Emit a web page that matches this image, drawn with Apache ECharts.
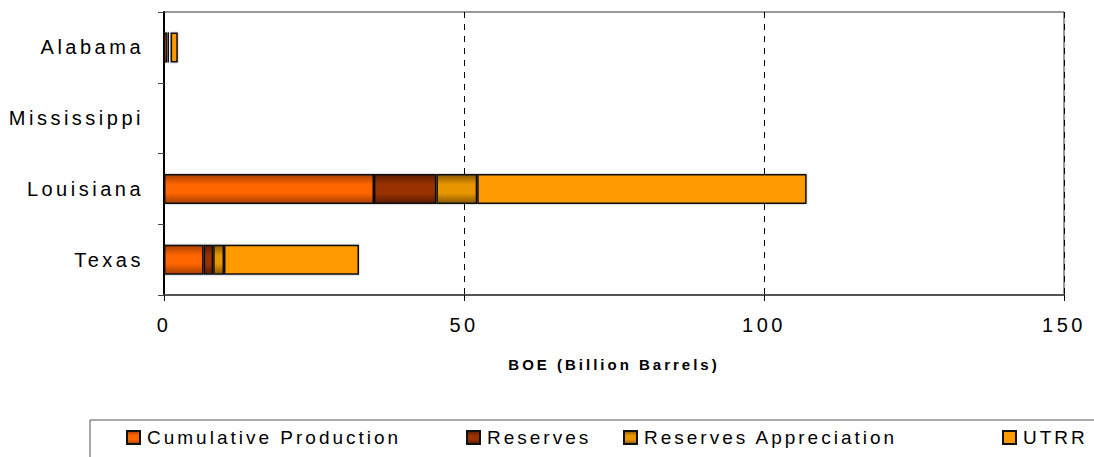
<!DOCTYPE html>
<html>
<head>
<meta charset="utf-8">
<script src="https://cdn.jsdelivr.net/npm/echarts@6/dist/echarts.min.js"></script>
<style>
    html, body { margin: 0; padding: 0; background: #fff; }
    #chart { width: 1094px; height: 457px; letter-spacing: 3.5px; }
    #chart text[style*="19px"] { letter-spacing: 3px; }
    #chart text[style*="bold"] { letter-spacing: 3px; }
</style>
</head>
<body>
<div id="chart"></div>
<script>
// 数据
const states = ['Alabama', 'Mississippi', 'Louisiana', 'Texas']
const cumulativeProduction = [0.6, 0, 35.0, 6.6]
const reserves = [0.3, 0, 10.4, 1.6]
const reservesAppreciation = [0.2, 0, 6.8, 1.8]
const utrr = [1.2, 0, 54.9, 22.5]
const xTicks = [0, 50, 100, 150]

const seriesNames = ['Cumulative Production', 'Reserves', 'Reserves Appreciation', 'UTRR']

// 竖向渐变（上下边缘深，中间亮）
function band(edge, mid) {
    return new echarts.graphic.LinearGradient(0, 0, 0, 1, [
        { offset: 0, color: edge },
        { offset: 0.35, color: mid },
        { offset: 0.65, color: mid },
        { offset: 1, color: edge }
    ])
}

const colors = [
    band('#a83f00', '#ff6600'),
    band('#5a1d00', '#993300'),
    band('#8c5a00', '#e89600'),
    '#ff9900'
]
const values = [cumulativeProduction, reserves, reservesAppreciation, utrr]

const myChart = echarts.init(document.getElementById('chart'), null, { renderer: 'svg' })

const options = {
    animation: false,
    textStyle: { fontFamily: 'Liberation Sans, Arial, sans-serif', color: '#000' },
    grid: {
        left: 164, right: 30, top: 12, bottom: 162,
        show: true,
        borderColor: '#333',
        borderWidth: 1
    },
    xAxis: {
        type: 'value',
        min: 0,
        max: 150,
        interval: 50,
        name: 'BOE (Billion Barrels)',
        nameLocation: 'middle',
        nameGap: 62,
        nameTextStyle: { fontSize: 15, fontWeight: 'bold', color: '#000' },
        axisLine: { show: true, lineStyle: { color: '#555', width: 2 } },
        axisTick: { show: true, length: 6, lineStyle: { color: '#000' } },
        axisLabel: {
            fontSize: 20,
            color: '#000',
            margin: 20,
            formatter: (v) => (xTicks.includes(v) ? String(v) : '')
        },
        splitLine: {
            show: true,
            lineStyle: { color: '#000', type: [6, 6], width: 1 }
        }
    },
    yAxis: {
        type: 'category',
        data: states,
        inverse: true,
        axisLine: { show: true, lineStyle: { color: '#000', width: 2 } },
        axisTick: { show: true, length: 6, lineStyle: { color: '#444' } },
        axisLabel: { fontSize: 20, color: '#000', margin: 20 },
        splitLine: { show: false }
    },
    legend: seriesNames.map((name, i) => ({
        data: [name],
        left: [126, 466, 623, 1002][i],
        top: 428,
        itemWidth: 13,
        itemHeight: 13,
        itemGap: 0,
        padding: 0,
        icon: 'rect',
        textStyle: { fontSize: 19, color: '#000', padding: [0, 0, 0, 2] }
    })),
    graphic: [{
        type: 'rect',
        shape: { x: 90, y: 420, width: 1010, height: 50 },
        style: { fill: 'none', stroke: '#555', lineWidth: 1 },
        silent: true
    }],
    series: seriesNames.map((name, i) => ({
        name: name,
        type: 'bar',
        stack: 'total',
        barWidth: 30,
        data: values[i],
        itemStyle: {
            color: colors[i],
            borderColor: '#111',
            borderWidth: 1.5,
            shadowColor: 'rgba(0, 0, 0, 0.35)',
            shadowBlur: 2
        }
    }))
}

myChart.setOption(options)
</script>
</body>
</html>
